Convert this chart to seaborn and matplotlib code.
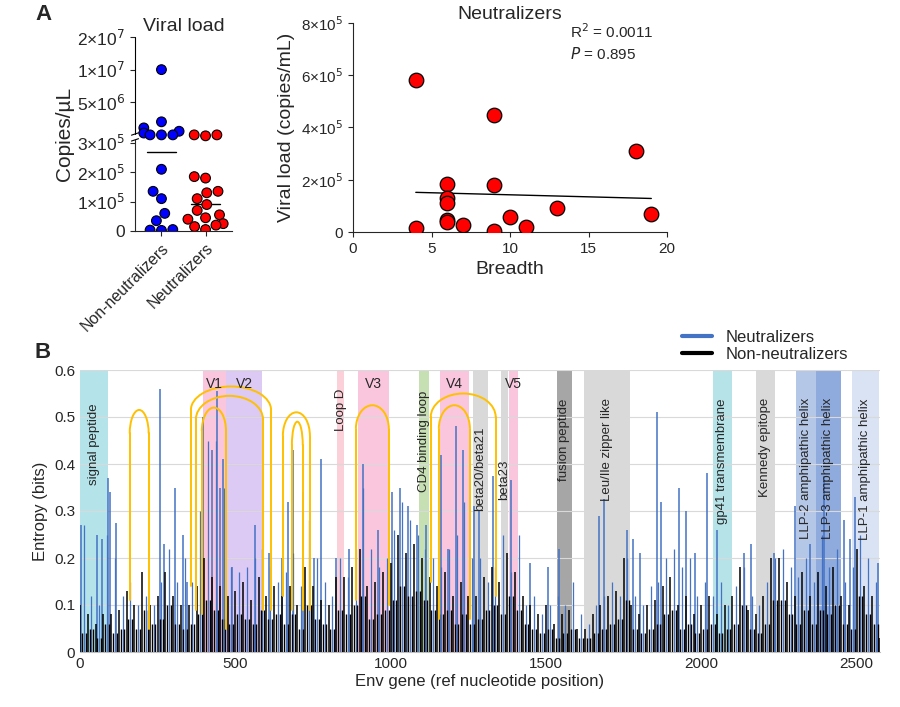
import numpy as np
import pandas as pd
import matplotlib
matplotlib.use("Agg")
import matplotlib.pyplot as plt
import seaborn as sns
from matplotlib.patches import Arc
from matplotlib.lines import Line2D

sns.set_style("ticks")
plt.rcParams['font.family'] = ['Liberation Sans', 'DejaVu Sans']

# ---------------- data ----------------
non_neut_vl = [1.0e7, 3.3e6, 2.9e6, 2.7e6, 2.6e6, 2.5e6, 2.5e6, 2.5e6,
               2.1e5, 1.35e5, 1.1e5, 0.6e5, 0.35e5, 0.05e5, 0.03e5, 0.02e5]
neut_vl = [2.5e6, 2.5e6, 2.45e6, 1.85e5, 1.8e5, 1.35e5, 1.3e5, 1.1e5, 0.9e5,
           0.7e5, 0.55e5, 0.45e5, 0.4e5, 0.25e5, 0.2e5, 0.15e5, 0.05e5]
group_means = {"Non-neutralizers": 2.7e5, "Neutralizers": 0.92e5}
left_ticks = [0, 1e5, 2e5, 3e5, 5e6, 1e7, 2e7]
left_ticklabels = ["0", "1×10$^5$", "2×10$^5$", "3×10$^5$", "5×10$^6$", "1×10$^7$", "2×10$^7$"]

breadth = [4, 4, 6, 6, 6, 6, 6, 7, 9, 9, 9, 10, 11, 13, 18, 19]
vl_neut = [5.8e5, 1.5e4, 1.85e5, 1.32e5, 1.1e5, 4.5e4, 3.8e4, 2.6e4, 4.48e5,
           1.78e5, 3e3, 5.7e4, 1.8e4, 9e4, 3.1e5, 7e4]

step_pos = np.arange(0, 2600, 25)
black_env = [0.10,0.08,0.06,0.08,0.08,0.09,0.13,0.10,0.17,0.10,
             0.12,0.17,0.12,0.10,0.10,0.14,0.20,0.16,0.14,0.12,
             0.13,0.15,0.11,0.16,0.12,0.14,0.12,0.14,0.10,0.18,
             0.14,0.11,0.10,0.16,0.16,0.18,0.22,0.14,0.15,0.17,
             0.19,0.25,0.21,0.23,0.20,0.16,0.14,0.17,0.12,0.15,
             0.12,0.12,0.16,0.18,0.15,0.21,0.17,0.12,0.10,0.08,
             0.10,0.06,0.08,0.09,0.05,0.05,0.08,0.10,0.12,0.13,
             0.20,0.10,0.08,0.10,0.11,0.14,0.16,0.10,0.12,0.08,
             0.10,0.12,0.08,0.10,0.12,0.18,0.09,0.08,0.12,0.20,
             0.20,0.15,0.12,0.17,0.12,0.17,0.14,0.18,0.12,0.10,
             0.22,0.14,0.12,0.03]
black_low = [0.04,0.05,0.03,0.06,0.04,0.05,0.07,0.05,0.09,0.06,
             0.07,0.10,0.06,0.05,0.06,0.08,0.11,0.09,0.07,0.06,
             0.08,0.07,0.06,0.09,0.07,0.08,0.06,0.08,0.05,0.10,
             0.07,0.06,0.05,0.09,0.08,0.10,0.12,0.07,0.08,0.09,
             0.11,0.14,0.12,0.13,0.11,0.09,0.08,0.09,0.06,0.08,
             0.06,0.07,0.09,0.10,0.08,0.12,0.09,0.06,0.05,0.04,
             0.05,0.03,0.04,0.05,0.03,0.03,0.04,0.05,0.06,0.07,
             0.11,0.05,0.04,0.05,0.06,0.08,0.09,0.05,0.06,0.04,
             0.05,0.06,0.04,0.05,0.06,0.10,0.05,0.04,0.06,0.11,
             0.11,0.08,0.06,0.09,0.06,0.09,0.08,0.10,0.06,0.05,
             0.12,0.08,0.06,0.02]
blue_env = [0.27,0.12,0.10,0.25,0.20,0.12,0.15,0.10,0.12,0.10,
            0.15,0.22,0.15,0.20,0.15,0.30,0.45,0.45,0.35,0.18,
            0.17,0.18,0.20,0.22,0.18,0.15,0.17,0.21,0.14,0.28,
            0.20,0.15,0.12,0.20,0.16,0.22,0.35,0.22,0.18,0.20,
            0.26,0.32,0.28,0.25,0.22,0.20,0.18,0.22,0.25,0.32,
            0.20,0.20,0.15,0.18,0.25,0.17,0.25,0.10,0.12,0.08,
            0.10,0.12,0.10,0.15,0.08,0.06,0.10,0.12,0.15,0.12,
            0.20,0.12,0.10,0.14,0.15,0.20,0.22,0.18,0.20,0.12,
            0.15,0.12,0.15,0.10,0.14,0.18,0.12,0.10,0.15,0.20,
            0.22,0.18,0.16,0.20,0.15,0.25,0.18,0.22,0.15,0.18,
            0.25,0.20,0.15,0.10]
blue_peak_pos = [2,91,97,56,70,115,259,270,306,346,330,395,424,440,461,450,489,563,608,
                 649,670,684,718,754,775,825,866,911,959,1003,1029,1056,1086,1113,1161,
                 1185,1211,1233,1268,1283,1329,1388,1447,1506,1543,1669,1688,1761,1781,
                 1801,1856,1870,1929,1951,1981,2019,2049,2138,2160,2233,2302,2350,2396,
                 2460,2478,2495,2567]
blue_peak_h = [0.27,0.37,0.34,0.25,0.24,0.275,0.56,0.23,0.35,0.15,0.25,0.5,0.43,0.555,0.41,
               0.35,0.18,0.27,0.21,0.2,0.32,0.43,0.34,0.2,0.41,0.2,0.22,0.4,0.26,0.34,0.35,
               0.31,0.27,0.27,0.42,0.22,0.48,0.43,0.31,0.30,0.375,0.365,0.19,0.18,0.22,
               0.29,0.325,0.26,0.24,0.21,0.51,0.32,0.35,0.30,0.21,0.38,0.26,0.21,0.23,
               0.21,0.31,0.23,0.375,0.28,0.24,0.33,0.19]

region_names = ["signal peptide","V1","V2","Loop D","V3","CD4 binding loop","V4",
                "beta20/beta21","beta23","V5","fusion peptide","Leu/Ile zipper like",
                "gp41 transmembrane","Kennedy epitope","LLP-2 amphipathic helix",
                "LLP-3 amphipathic helix","LLP-1 amphipathic helix"]
region_start = [0,396,470,827,895,1091,1158,1264,1355,1380,1535,1622,2037,2175,2304,2368,2484]
region_end = [90,470,586,850,994,1123,1252,1313,1377,1409,1583,1770,2098,2236,2368,2448,2571]
region_color = ["#b4e4ea","#f9c6dd","#dcc9f4","#fbd0d8","#f9c6dd","#c6e0b4","#f9c6dd",
                "#d9d9d9","#d9d9d9","#f9c6dd","#a6a6a6","#d9d9d9","#b6e3e8","#d9d9d9",
                "#b4c7e7","#8faadc","#dae3f3"]
loop_left = [160,357,373,392,653,682,888,1129,1155]
loop_right = [221,615,589,470,740,717,994,1338,1255]
loop_top = [0.515,0.565,0.545,0.52,0.51,0.49,0.525,0.55,0.525]
loop_foot_l = [0.11,0.14,0.09,0.08,0.12,0.09,0.11,0.15,0.07]
loop_foot_r = [0.05,0.09,0.09,0.05,0.09,0.09,0.10,0.12,0.07]

# ---------------- helpers ----------------
def ytr(v):
    if v <= 3e5:
        return v / 1e5
    return 5.49 + 1.11 * np.log2(v / 1e7)

fig = plt.figure(figsize=(9, 7.07), dpi=100)
W, H = 900, 707
def ax_px(x0, y0, x1, y1):
    return fig.add_axes([x0 / W, 1 - y1 / H, (x1 - x0) / W, (y1 - y0) / H])

# ---------------- panel A left ----------------
ax1 = ax_px(135, 37, 232, 231)
df = pd.DataFrame({
    "group": ["Non-neutralizers"] * len(non_neut_vl) + ["Neutralizers"] * len(neut_vl),
    "y": [ytr(v) for v in non_neut_vl + neut_vl]})
sns.swarmplot(data=df, x="group", y="y", hue="group", palette=["#0000ff", "#ff0000"],
              size=7, edgecolor="black", linewidth=0.8, ax=ax1, legend=False)
for i, g in enumerate(["Non-neutralizers", "Neutralizers"]):
    ax1.plot([i - 0.33, i + 0.33], [ytr(group_means[g])] * 2, color="black", lw=1)
ax1.set_ylim(0, ytr(2e7))
ax1.set_xlim(-0.6, 1.6)
ax1.set_yticks([ytr(v) for v in left_ticks])
ax1.set_yticklabels(left_ticklabels, fontsize=12.5)
ax1.set_xticks([0, 1])
ax1.set_xticklabels(["Non-neutralizers", "Neutralizers"], rotation=45, ha="right",
                    rotation_mode="anchor", fontsize=11.5)
ax1.set_xlabel("")
ax1.set_ylabel("Copies/µL", fontsize=15, labelpad=2)
ax1.set_title("Viral load", fontsize=14, pad=4)
sns.despine(ax=ax1)
ax1.spines["left"].set_bounds(0, 3.1)
ax1.plot([-0.6, -0.6], [3.3, ytr(2e7)], color="black", lw=0.8, clip_on=False)
for yb in (3.1, 3.3):
    ax1.plot([-0.68, -0.52], [yb - 0.04, yb + 0.04], color="black", lw=0.8, clip_on=False)

# ---------------- panel A right ----------------
ax2 = ax_px(353, 23, 667, 232)
sns.scatterplot(x=breadth, y=vl_neut, color="#ff0000", edgecolor="black", s=110,
                linewidth=0.9, ax=ax2, zorder=3)
coef = np.polyfit(breadth, vl_neut, 1)
xs = np.array([min(breadth), max(breadth)])
ax2.plot(xs, np.polyval(coef, xs), color="black", lw=1)
ax2.set_xlim(0, 20)
ax2.set_ylim(0, 8e5)
ax2.set_xticks([0, 5, 10, 15, 20])
ax2.set_yticks([0, 2e5, 4e5, 6e5, 8e5])
ax2.set_yticklabels(["0", "2×10$^5$", "4×10$^5$", "6×10$^5$", "8×10$^5$"])
ax2.tick_params(labelsize=11)
ax2.set_xlabel("Breadth", fontsize=14)
ax2.set_ylabel("Viral load (copies/mL)", fontsize=14)
ax2.set_title("Neutralizers", fontsize=14, pad=0)
ax2.text(0.69, 0.93, "R$^2$ = 0.0011", transform=ax2.transAxes, fontsize=11)
ax2.text(0.69, 0.83, "$P$ = 0.895", transform=ax2.transAxes, fontsize=11)
sns.despine(ax=ax2)

# ---------------- panel B ----------------
ax3 = ax_px(80, 370, 880, 652)
ax3.set_xlim(0, 2575)
ax3.set_ylim(0, 0.6)
ax3.yaxis.grid(True, color="#d9d9d9", lw=0.8)
ax3.set_axisbelow(True)
for n, s, e, c in zip(region_names, region_start, region_end, region_color):
    ax3.axvspan(s, e, color=c, lw=0, zorder=0.5)
    mid = (s + e) / 2
    if n in ("V1", "V2", "V3", "V4", "V5"):
        ax3.text(mid, 0.585, n, ha="center", va="top", fontsize=10, zorder=5)
    else:
        ypos = {"Loop D": 0.56, "signal peptide": 0.53, "CD4 binding loop": 0.555,
                "beta20/beta21": 0.48, "beta23": 0.41}.get(n, 0.54)
        ax3.text(mid, ypos, n, rotation=90, ha="center", va="top", fontsize=9.5, zorder=5)
ax3.vlines(step_pos + 12, 0, blue_env, color="#4472c4", lw=0.9, zorder=2)
ax3.vlines(blue_peak_pos, 0, blue_peak_h, color="#4472c4", lw=1.1, zorder=2)
ax3.vlines(step_pos, 0, black_env, color="black", lw=1.1, zorder=3)
ax3.vlines(step_pos + 6, 0, black_low, color="black", lw=1.0, zorder=3)
ax3.vlines(step_pos + 18, 0, black_low, color="black", lw=1.0, zorder=3)
for l, r, t, fl, fr in zip(loop_left, loop_right, loop_top, loop_foot_l, loop_foot_r):
    w = r - l
    h = 0.05
    ax3.plot([l, l], [fl, t - h], color="#ffc000", lw=1.4, zorder=4)
    ax3.plot([r, r], [fr, t - h], color="#ffc000", lw=1.4, zorder=4)
    ax3.add_patch(Arc(((l + r) / 2, t - h), w, 2 * h, theta1=0, theta2=180,
                      color="#ffc000", lw=1.4, zorder=4))
ax3.set_xticks([0, 500, 1000, 1500, 2000, 2500])
ax3.set_yticks([0, 0.1, 0.2, 0.3, 0.4, 0.5, 0.6])
ax3.set_yticklabels(["0", "0.1", "0.2", "0.3", "0.4", "0.5", "0.6"])
ax3.tick_params(labelsize=11, length=0)
ax3.set_xlabel("Env gene (ref nucleotide position)", fontsize=12, labelpad=2)
ax3.set_ylabel("Entropy (bits)", fontsize=12)
for sp in ["top", "right", "left"]:
    ax3.spines[sp].set_visible(False)
ax3.spines["bottom"].set_color("#bfbfbf")
handles = [Line2D([], [], color="#4472c4", lw=3), Line2D([], [], color="black", lw=3)]
ax3.legend(handles, ["Neutralizers", "Non-neutralizers"], loc="lower right",
           bbox_to_anchor=(0.97, 1.0), frameon=False, fontsize=12, handlelength=1.8,
           borderpad=0, labelspacing=0.1)

fig.text(35 / W, 1 - 15 / H, "A", fontsize=16, fontweight="bold", va="center")
fig.text(35 / W, 1 - 352 / H, "B", fontsize=16, fontweight="bold", va="center")
fig.savefig("out.png", dpi=100)
